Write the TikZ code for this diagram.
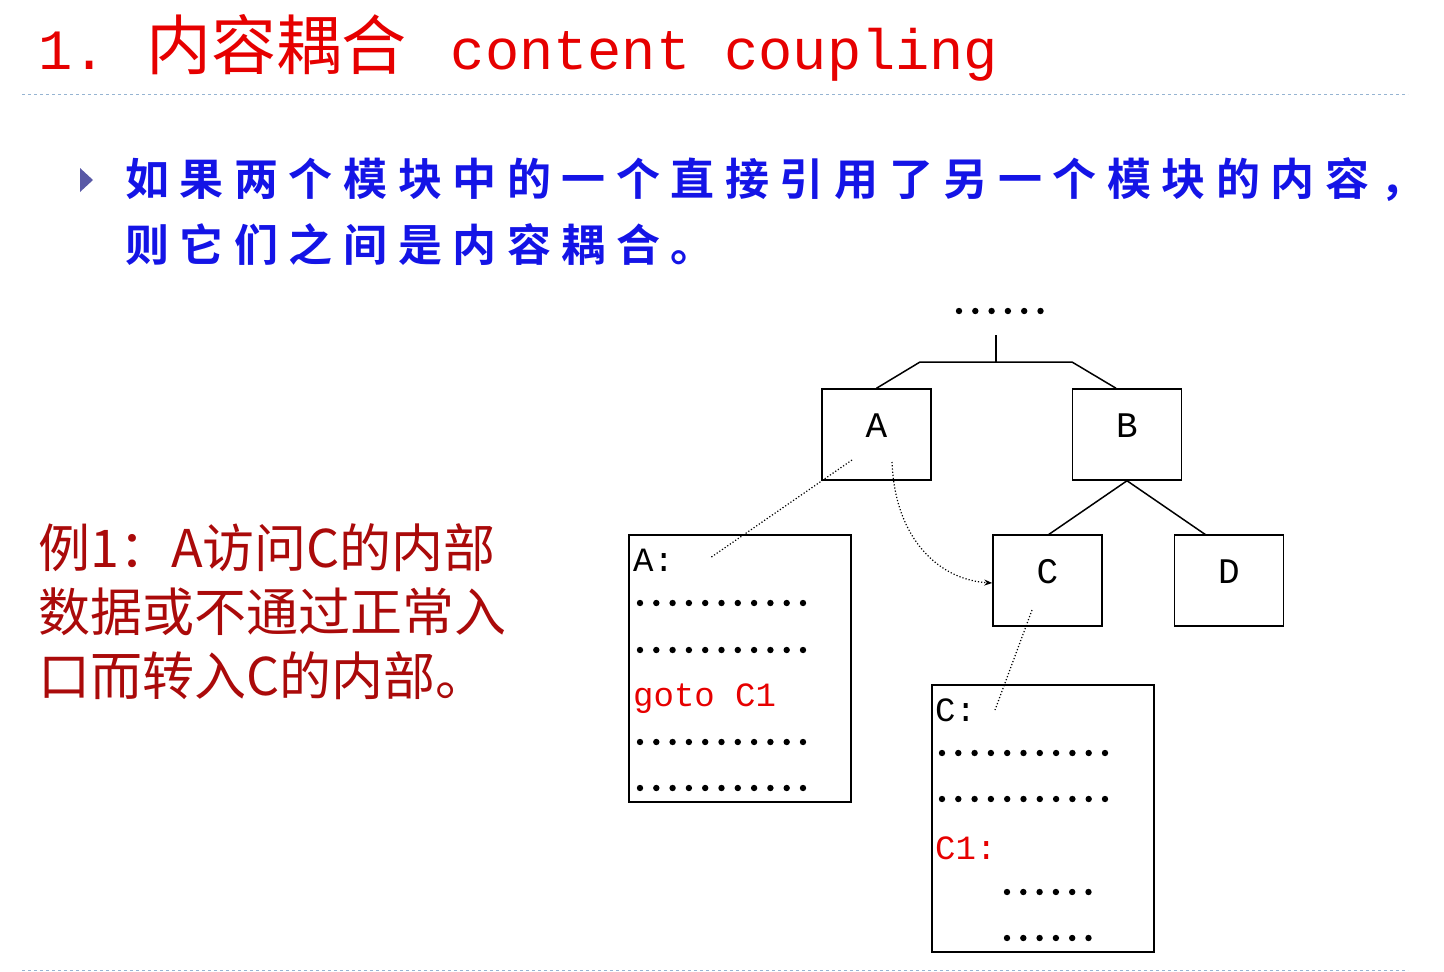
\documentclass[tikz,border=0pt]{standalone}
\usepackage{fontspec}
\setmainfont{Liberation Serif}
\newfontfamily\cjk{Noto Sans CJK SC}
\newfontfamily\cjkb{Noto Sans CJK SC Bold}
\newfontfamily\mono{Liberation Mono}
\usetikzlibrary{arrows.meta}
\definecolor{tred}{RGB}{230,0,0}
\definecolor{dred}{RGB}{170,10,10}
\definecolor{bblue}{RGB}{20,20,230}
\definecolor{lblue}{RGB}{150,180,210}
\tikzset{
  mod/.style={draw,line width=1.5pt,minimum width=109pt,minimum height=91pt,inner sep=0pt},
  modlbl/.style={font=\mono\fontsize{36}{36}\selectfont},
  code/.style={anchor=west,inner sep=0pt,font=\mono\fontsize{34}{34}\selectfont},
  tline/.style={line width=1.5pt},
  dot/.style={dotted,line width=1.2pt},
}
\newcommand{\dotrow}[3]{\foreach \i in {1,...,#3} \fill ({#1+16.3*(\i-1)},#2) circle (3.2pt);}
\begin{document}
\begin{tikzpicture}[x=1pt,y=-1pt]
\useasboundingbox (0,0) rectangle (1444,972);
% title
\node[anchor=west,inner sep=0pt,text=tred] (title) at (38,48)
 {\mono\fontsize{57}{57}\selectfont 1.\hspace*{40pt}{\cjk\fontsize{65}{65}\selectfont 内容耦合}\hspace*{10pt} content coupling};
\draw[lblue,dashed,line width=1pt] (22,94) -- (1408,94);
\draw[lblue,dashed,line width=1pt] (22,970) -- (1408,970);
% bullet
\fill[gray!70!blue] (80,168) -- (93,180) -- (80,192) -- cycle;
\node[anchor=west,inner sep=0pt,text=bblue] (l1) at (125,180)
 {\cjkb\fontsize{44}{44}\selectfont\addfontfeature{LetterSpace=24}如果两个模块中的一个直接引用了另一个模块的内容，};
\node[anchor=west,inner sep=0pt,text=bblue] (l2) at (125,245)
 {\cjkb\fontsize{44}{44}\selectfont\addfontfeature{LetterSpace=24}则它们之间是内容耦合。};
% left text
\begin{scope}[every node/.style={anchor=west,inner sep=0pt,text=dred,font=\cjk\fontsize{52}{52}\selectfont}]
\node (e1) at (38,548) {例1：A访问C的内部};
\node (e2) at (38,612) {数据或不通过正常入};
\node (e3) at (38,676) {口而转入C的内部。};
\end{scope}
% tree
\dotrow{959}{311}{6}
\coordinate (j) at (996,362);
\coordinate (jl) at (920,362);
\coordinate (jr) at (1072,362);
\node[mod] (A) at (876.5,434.5) {};
\node[modlbl] at (A) [yshift=9pt] {A};
\node[mod] (B) at (1127,434.5) {};
\node[modlbl] at (B) [yshift=9pt] {B};
\node[mod] (C) at (1047.5,580.5) {};
\node[modlbl] at (C) [yshift=9pt] {C};
\node[mod] (D) at (1229,580.5) {};
\node[modlbl] at (D) [yshift=9pt] {D};
\draw[tline] (996,335) -- (j);
\draw[tline] (A.north) -- (jl) -- (jr) -- ([xshift=-11pt]B.north);
\draw[tline] (B.south) -- (1048,535);
\draw[tline] (B.south) -- (1206,535);
% code boxes
\node[draw,line width=1.5pt,minimum width=222pt,minimum height=267pt,inner sep=0pt] (CA) at (740,668.5) {};
\node[code] (ca1) at (633,560) {A:};
\dotrow{640}{603}{11}
\dotrow{640}{650}{11}
\node[code,text=tred] (ca4) at (633,699) {goto C1};
\dotrow{640}{742}{11}
\dotrow{640}{788}{11}
\node[draw,line width=1.5pt,minimum width=222pt,minimum height=267pt,inner sep=0pt] (CC) at (1043,818.5) {};
\node[code] (cc1) at (935,710) {C:};
\dotrow{942}{753}{11}
\dotrow{942}{799}{11}
\node[code,text=tred] (cc4) at (935,848) {C1:};
\dotrow{1007}{892}{6}
\dotrow{1007}{938}{6}
% dotted connectors
\coordinate (a1) at (852,460);
\coordinate (a2) at (710,558);
\draw[dot] (a1) -- (a2);
\coordinate (b1) at (892,462);
\draw[dot,-{Stealth[length=8pt]}] (b1) .. controls (895,540) and (940,580) .. (C.west |- 0,583);
\coordinate (c1) at (1032,610);
\coordinate (c2) at (995,710);
\draw[dot] (c1) -- (c2);
\end{tikzpicture}
\end{document}
